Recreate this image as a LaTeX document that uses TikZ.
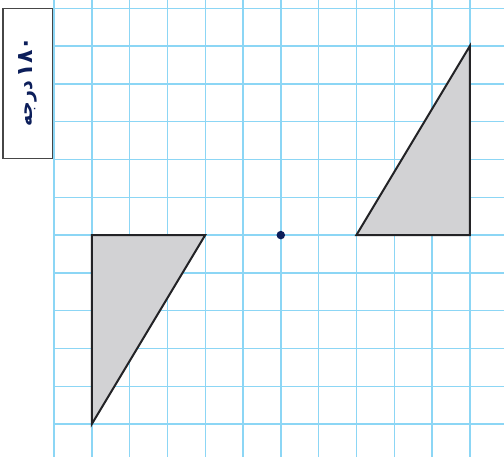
\documentclass[tikz,border=0pt]{standalone}
\usepackage{fontspec}
\newfontfamily\arabicfont[Script=Arabic]{DejaVu Sans}
\TeXXeTstate=1
\definecolor{gridblue}{RGB}{140,214,245}
\definecolor{trifill}{RGB}{210,210,212}
\definecolor{triline}{RGB}{35,35,38}
\definecolor{navy}{RGB}{12,30,90}
\definecolor{boxline}{RGB}{70,70,70}
\tikzset{
  gridline/.style={draw=gridblue, line width=1.4pt},
  triangle/.style={fill=trifill, draw=triline, line width=2pt, line join=miter},
  labelbox/.style={draw=boxline, line width=1.4pt, fill=white},
  centerdot/.style={circle, fill=navy, inner sep=0pt, minimum size=8.5pt},
}
\begin{document}
\begin{tikzpicture}[x=1pt,y=-1pt]
\useasboundingbox (0,0) rectangle (504,457);
\fill[white] (0,0) rectangle (504,457);
\foreach \i in {0,...,11} {
  \draw[gridline] ({54+37.8*\i},0) -- ({54+37.8*\i},457);
  \draw[gridline] (53.3,{8.3+37.8*\i}) -- (504,{8.3+37.8*\i});
}
% left triangle
\draw[triangle] ({54+37.8*1},{8.3+37.8*6}) -- ({54+37.8*4},{8.3+37.8*6}) -- ({54+37.8*1},{8.3+37.8*11}) -- cycle;
% right triangle
\draw[triangle] ({54+37.8*8},{8.3+37.8*6}) -- ({54+37.8*11},{8.3+37.8*6}) -- ({54+37.8*11},{8.3+37.8*1}) -- cycle;
% center of rotation
\node[centerdot] (center) at ({54+37.8*6},{8.3+37.8*6}) {};
% label box
\draw[labelbox] (3,8.3) rectangle (52.3,158.5);
\node[rotate=90, text=navy, inner sep=0pt, font=\arabicfont\bfseries\fontsize{19}{23}\selectfont] (label) at (28,82) {\beginR\beginL{\fontsize{22}{26}\selectfont ۱۸۰}\endL{}\hspace{0.2em}درجه\endR};
\end{tikzpicture}
\end{document}
